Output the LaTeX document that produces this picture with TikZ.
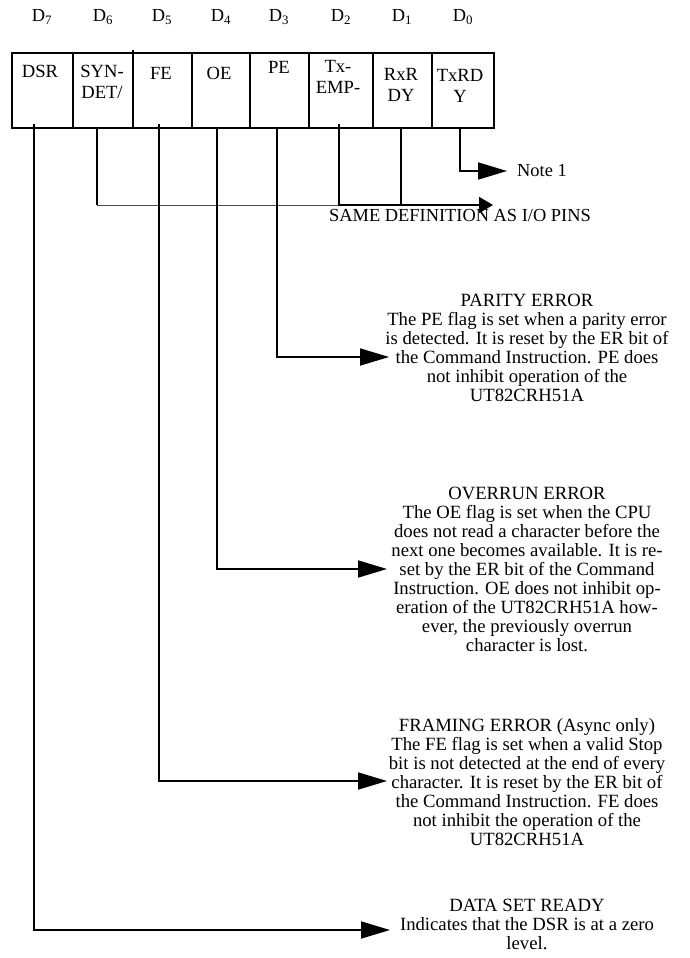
\documentclass[tikz,border=0pt]{standalone}
\usepackage{fontspec}
\setmainfont{Liberation Serif}
\usetikzlibrary{arrows.meta}

\begin{document}
\begin{tikzpicture}[x=1pt, y=-1pt,
  wire/.style={line width=1.8pt},
  thinwire/.style={line width=1pt, black!70},
  arr/.style={-{Triangle[length=29pt, width=17pt]}},
  smallarr/.style={-{Triangle[length=14pt, width=16pt]}},
  bitlbl/.style={anchor=north, inner sep=0pt, align=center, font=\fontsize{18.6}{21}\selectfont},
  desc/.style={anchor=north, inner sep=0pt, align=center, font=\fontsize{18.7}{19}\selectfont},
  plain/.style={inner sep=0pt, font=\fontsize{18.4}{19}\selectfont}]

\useasboundingbox (0,0) rectangle (689,958);

%Bit numbers
\foreach \n/\xx in {7/42, 6/103, 5/162, 4/221, 3/279, 2/341, 1/402, 0/463}
  \node[plain] (d\n) at (\xx,17) {D\textsubscript{\n}};

%Status register
\draw[wire] (12,53) rectangle (494,128);
\foreach \xx in {73,192,250,309,373,432}
  \draw[wire] (\xx,53) -- (\xx,128);
\draw[wire] (133,50) -- (133,128);

%% Bit names
\node[bitlbl] (dsr) at (40,65) {DSR};
\node[bitlbl] (syndet) at (102,65) {SYN-\\DET/};
\node[bitlbl] (fe) at (161,67) {FE};
\node[bitlbl] (oe) at (219,67) {OE};
\node[bitlbl] (pe) at (279,61) {PE};
\node[bitlbl] (txemp) at (338,60) {Tx-\\EMP-};
\node[bitlbl] (rxrdy) at (401,68) {RxR\\DY};
\node[bitlbl] (txrdy) at (460,69) {TxRD\\Y};

% Taps under the register
\foreach \name/\xx/\yy in {dsr/34/124, syndet/97/128, fe/159/124, oe/217/128,
                           pe/277/128, txemp/339/124, rxrdy/401/128, txrdy/460/128}
  \coordinate (\name-out) at (\xx,\yy);

% Arrow ends
\coordinate (note-in) at (507,171);
\coordinate (bus-in) at (493,205);
\coordinate (pe-in) at (389,357);
\coordinate (oe-in) at (387,569);
\coordinate (fe-in) at (387,781);
\coordinate (dsr-in) at (390,930);

% Descriptions
\node[plain, anchor=west] (note) at (517,171) {Note 1};
\node[plain, anchor=base] (same) at (460,221) {SAME DEFINITION AS I/O PINS};

\node[desc] (petext) at (527,294) {PARITY ERROR\\
The PE flag is set when a parity error\\
is detected.  It is reset by the ER bit of\\
the Command Instruction.  PE does\\
not inhibit operation of the\\
UT82CRH51A};

\node[desc] (oetext) at (527,487) {OVERRUN ERROR\\
The OE flag is set when the CPU\\
does not read a character before the\\
next one becomes available.  It is re-\\
set by the ER bit of the Command\\
Instruction.  OE does not inhibit op-\\
eration of the UT82CRH51A how-\\
ever, the previously overrun\\
character is lost.};

\node[desc] (fetext) at (527,718) {FRAMING ERROR (Async only)\\
The FE flag is set when a valid Stop\\
bit is not detected at the end of every\\
character.  It is reset by the ER bit of\\
the Command Instruction.  FE does\\
not inhibit the operation of the\\
UT82CRH51A};

\node[desc] (dsrtext) at (527,899) {DATA SET READY\\
Indicates that the DSR is at a zero\\
level.};

% Connections
\draw[wire, arr] (txrdy-out) |- (note-in);
\draw[wire] (syndet-out) -- (syndet-out |- bus-in);
\draw[thinwire] (syndet-out |- bus-in) -- (txemp-out |- bus-in);
\draw[wire, smallarr] (txemp-out) |- (bus-in);
\draw[wire] (rxrdy-out) -- (rxrdy-out |- bus-in);
\draw[wire, arr] (pe-out) |- (pe-in);
\draw[wire, arr] (oe-out) |- (oe-in);
\draw[wire, arr] (fe-out) |- (fe-in);
\draw[wire, arr] (dsr-out) |- (dsr-in);

\end{tikzpicture}
\end{document}
